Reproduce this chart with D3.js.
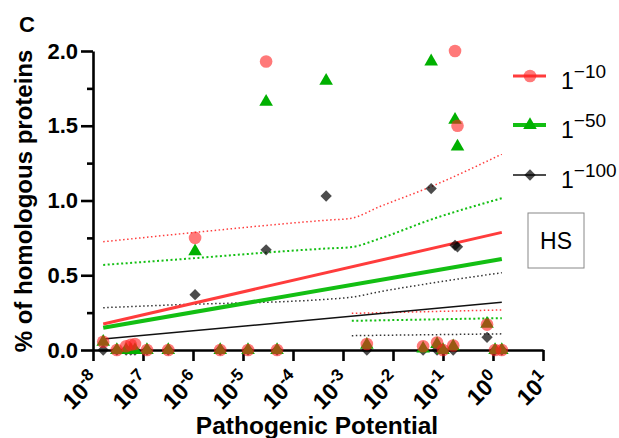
<!DOCTYPE html>
<html>
<head>
<meta charset="utf-8">
<script src="https://cdn.jsdelivr.net/npm/d3@7"></script>
<style>
  body { margin: 0; background: #fff; }
  text { font-family: "Liberation Sans", Arial, sans-serif; }
</style>
</head>
<body>
<div class="chart"></div>
<script>
var svgWidth = 619;
var svgHeight = 438;

var margin = { top: 51, right: 76, bottom: 88, left: 93 };
var width = 543 - margin.left;
var height = 350 - margin.top;

// pathogenic potential of each protein set (x values)
var potential = [1.6e-8, 3.0e-8, 4.6e-8, 5.7e-8, 6.9e-8, 1.2e-7, 3.2e-7, 1.1e-6, 3.5e-6, 1.26e-5,
  2.9e-5, 4.8e-5, 4.6e-4, 3.0e-3, 0.04, 0.058, 0.076, 0.1, 0.16, 0.174, 0.195, 0.76, 1.1, 1.5];

// % of homologous proteins for each e-value cutoff
var red10 = [0.055, 0, 0.025, 0.035, 0.04, 0, 0, 0.75, 0, 0,
  1.93, 0, null, 0.04, 0.025, null, 0.05, 0, 0.03, 2.0, 1.5, 0.17, 0, 0];
var green50 = [0.055, 0, 0, 0, 0, 0, 0, 0.66, 0, 0,
  1.66, 0, 1.80, 0.035, 0.01, 1.93, 0.04, 0, 0.025, 1.54, 1.36, 0.175, 0, 0];
var black100 = [0, 0, 0, 0, 0, 0, 0, 0.37, 0, 0,
  0.67, 0, 1.03, 0, 0, 1.08, 0, 0, 0, 0.70, 0.69, 0.085, 0, 0];

// regression lines (ends)
var fitX = [1.6e-8, 1.5];
var fitRed = [0.174, 0.787];
var fitGreen = [0.149, 0.609];
var fitBlack = [0.073, 0.319];

// confidence bands
var upperX = [1.6e-8, 3.5e-7, 5.5e-4, 1.4e-3, 5.5e-3, 0.055, 1.5];
var upperRed = [0.724, 0.77, 0.87, 0.88, 0.96, 1.09, 1.31];
var upperGreen = [0.569, 0.602, 0.68, 0.687, 0.746, 0.87, 1.015];
var upperBlack = [0.283, 0.301, 0.341, 0.352, 0.39, 0.446, 0.517];
var lowerX = [1.5e-3, 1.5];
var lowerRed = [0.245, 0.268];
var lowerGreen = [0.195, 0.213];
var lowerBlack = [0.096, 0.108];

var xTicks = [-8, -7, -6, -5, -4, -3, -2, -1, 0, 1];
var yTicks = [0, 0.5, 1.0, 1.5, 2.0];
var yMinor = [0.25, 0.75, 1.25, 1.75];
var legendLabels = ["\u221210", "\u221250", "\u2212100"];

var svg = d3.select(".chart")
  .append("svg")
  .attr("width", svgWidth)
  .attr("height", svgHeight);

var chartGroup = svg.append("g")
  .attr("transform", `translate(${margin.left}, ${margin.top})`);

var xScale = d3.scaleLog().domain([1e-8, 1e1]).range([0, width]);
var yScale = d3.scaleLinear().domain([0, 2]).range([height, 0]);

var redCol = "#ff3c3c";
var greenCol = "#13bf13";

// bands and regression lines
function drawLine(xs, ys, color, w, dash) {
  var pts = xs.map((x, i) => [x, ys[i]]);
  chartGroup.append("path")
    .datum(pts)
    .attr("fill", "none")
    .attr("stroke", color)
    .attr("stroke-width", w)
    .attr("stroke-dasharray", dash)
    .attr("d", d3.line().x(d => xScale(d[0])).y(d => yScale(d[1])).curve(d3.curveMonotoneX));
}

drawLine(upperX, upperRed, redCol, 1.5, "1.5,2.5");
drawLine(upperX, upperGreen, greenCol, 2, "2,2.5");
drawLine(upperX, upperBlack, "#333", 1.5, "1.5,2.5");
drawLine(lowerX, lowerRed, redCol, 1.5, "1.5,2.5");
drawLine(lowerX, lowerGreen, greenCol, 2, "2,2.5");
drawLine(lowerX, lowerBlack, "#333", 1.5, "1.5,2.5");

drawLine(fitX, fitBlack, "#111", 1.5, null);
drawLine(fitX, fitGreen, greenCol, 4, null);
drawLine(fitX, fitRed, redCol, 3, null);

// axes
var leftAxis = d3.axisLeft(yScale)
  .tickValues(yTicks)
  .tickSize(12)
  .tickSizeOuter(0)
  .tickPadding(3)
  .tickFormat(d3.format(".1f"));

var yAxis = chartGroup.append("g").call(leftAxis);
yAxis.selectAll("text")
  .attr("font-size", 22)
  .attr("font-weight", "bold")
  .attr("fill", "#000");

var yMinorAxis = chartGroup.append("g")
  .call(d3.axisLeft(yScale).tickValues(yMinor).tickSize(6).tickFormat(""));
yMinorAxis.select(".domain").remove();

var bottomAxis = d3.axisBottom(xScale)
  .tickValues(xTicks.map(e => Math.pow(10, e)))
  .tickSize(11)
  .tickSizeOuter(0)
  .tickFormat("");

var xAxis = chartGroup.append("g")
  .attr("transform", `translate(0, ${height})`)
  .call(bottomAxis);

chartGroup.selectAll(".domain, .tick line")
  .attr("stroke", "#000")
  .attr("stroke-width", 2.6);

// rotated power-of-ten labels
xTicks.forEach(function(e) {
  var t = chartGroup.append("text")
    .attr("transform", `translate(${xScale(Math.pow(10, e)) + 8}, ${height + 32}) rotate(-45)`)
    .attr("text-anchor", "end")
    .attr("font-weight", "bold")
    .attr("font-size", 23);
  t.append("tspan").text("10");
  t.append("tspan").attr("font-size", 17).attr("dy", -9).text(e);
});

// points: diamonds, then triangles, then circles on top
function drawPoints(vals, symbol, size, color, opacity, rotate) {
  chartGroup.append("g")
    .selectAll("path")
    .data(potential.map((x, i) => [x, vals[i]]).filter(d => d[1] !== null))
    .enter()
    .append("path")
    .attr("d", d3.symbol().type(symbol).size(size))
    .attr("transform", d => `translate(${xScale(d[0])}, ${yScale(d[1])}) rotate(${rotate})`)
    .attr("fill", color)
    .attr("opacity", opacity);
}

drawPoints(black100, d3.symbolSquare, 64, "#000", 0.7, 45);
drawPoints(green50, d3.symbolTriangle, 80, "#00b000", 1, 0);
drawPoints(red10, d3.symbolCircle, 125, "#ff2020", 0.6, 0);

// legend
var legendY = [76, 125, 175];
var legendCols = [redCol, greenCol, "#111"];
var legendW = [3, 4, 1.5];

legendLabels.forEach(function(lab, i) {
  var g = svg.append("g").attr("transform", `translate(0, ${legendY[i]})`);
  g.append("line")
    .attr("x1", 513).attr("x2", 546)
    .attr("stroke", legendCols[i])
    .attr("stroke-width", legendW[i]);
  var sym = [d3.symbolCircle, d3.symbolTriangle, d3.symbolSquare][i];
  g.append("path")
    .attr("d", d3.symbol().type(sym).size([125, 80, 64][i]))
    .attr("transform", `translate(530, 0) rotate(${i === 2 ? 45 : 0})`)
    .attr("fill", ["#ff2020", "#00b000", "#000"][i])
    .attr("opacity", [0.6, 1, 0.7][i]);
  var t = g.append("text")
    .attr("x", 561)
    .attr("y", 12.5)
    .attr("font-size", 23);
  t.append("tspan").text("1");
  t.append("tspan").attr("font-size", 19).attr("dy", -11).text(lab);
});

// HS box
svg.append("rect")
  .attr("x", 528).attr("y", 213)
  .attr("width", 56).attr("height", 55)
  .attr("fill", "none")
  .attr("stroke", "#888")
  .attr("stroke-width", 1);

svg.append("text")
  .attr("x", 556).attr("y", 249)
  .attr("text-anchor", "middle")
  .attr("font-size", 23)
  .text("HS");

// titles
svg.append("text")
  .attr("x", 19).attr("y", 32)
  .attr("font-size", 22)
  .attr("font-weight", "bold")
  .text("C");

svg.append("text")
  .attr("transform", "translate(32, 201) rotate(-90)")
  .attr("text-anchor", "middle")
  .attr("font-size", 24)
  .attr("font-weight", "bold")
  .text("% of homologous proteins");

svg.append("text")
  .attr("x", 317).attr("y", 434)
  .attr("text-anchor", "middle")
  .attr("font-size", 24.5)
  .attr("font-weight", "bold")
  .text("Pathogenic Potential");
</script>
</body>
</html>
